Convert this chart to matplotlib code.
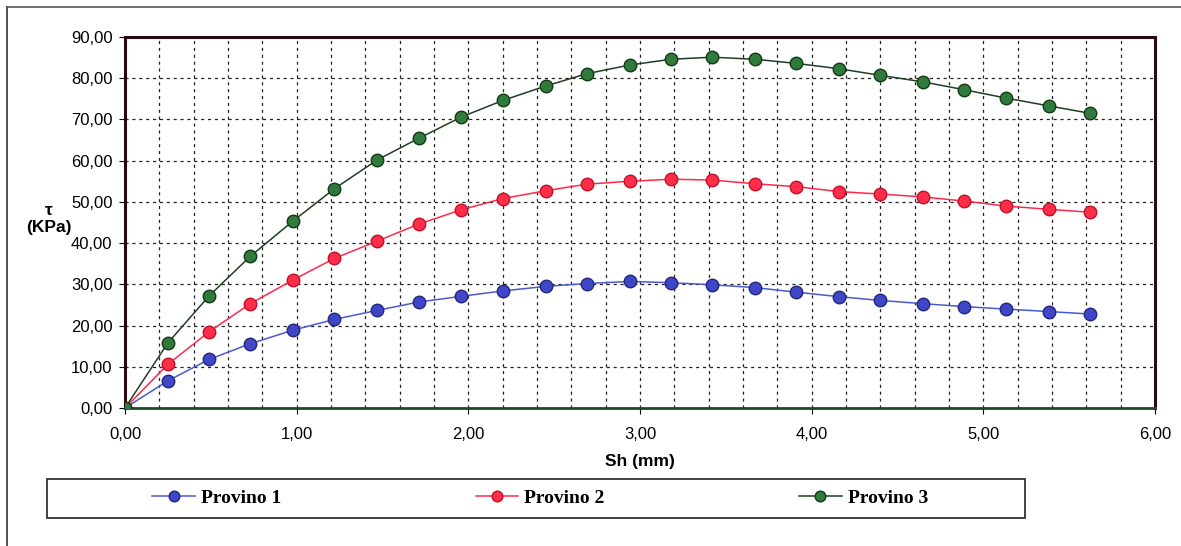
import matplotlib.pyplot as plt
from matplotlib.lines import Line2D
from matplotlib.patches import Rectangle
from matplotlib.ticker import MultipleLocator, FuncFormatter

plt.rcParams['font.family'] = ['Liberation Sans', 'DejaVu Sans']

sh = [0.00, 0.25, 0.49, 0.73, 0.98, 1.22, 1.47, 1.71, 1.96, 2.20, 2.45, 2.69,
      2.94, 3.18, 3.42, 3.67, 3.91, 4.16, 4.40, 4.65, 4.89, 5.13, 5.38, 5.62]

provino1 = [0.0, 6.6, 11.8, 15.6, 18.9, 21.5, 23.7, 25.7, 27.1, 28.4, 29.5, 30.2,
            30.7, 30.4, 29.9, 29.2, 28.1, 27.0, 26.1, 25.3, 24.6, 24.0, 23.4, 22.8]
provino2 = [0.0, 10.6, 18.5, 25.3, 31.1, 36.3, 40.5, 44.6, 48.1, 50.8, 52.7, 54.3,
            55.0, 55.5, 55.3, 54.4, 53.7, 52.5, 51.9, 51.2, 50.2, 49.0, 48.2, 47.5]
provino3 = [0.0, 15.8, 27.2, 36.8, 45.4, 53.2, 60.2, 65.4, 70.6, 74.6, 78.1, 81.1,
            83.2, 84.6, 85.1, 84.6, 83.6, 82.3, 80.7, 79.1, 77.2, 75.2, 73.3, 71.5]

labels = ['Provino 1', 'Provino 2', 'Provino 3']
series = [provino1, provino2, provino3]
line_colors = ['#4a5ad0', '#ff2a4a', '#1f3f22']
face_colors = ['#3f46c8', '#ff2d48', '#2f7a3c']
edge_colors = ['#26287a', '#c0102a', '#153a18']

W, H = 1181, 546
fig = plt.figure(figsize=(W / 100, H / 100), dpi=100)
ax = fig.add_axes([125 / W, 1 - 408 / H, 1030 / W, 371 / H])

handles = []
for y, lab, lc, fc, ec in zip(series, labels, line_colors, face_colors, edge_colors):
    h, = ax.plot(sh, y, '-', color=lc, lw=1.1, marker='o', ms=9,
                 markerfacecolor=fc, markeredgecolor=ec, markeredgewidth=1.0,
                 label=lab, zorder=3)
    handles.append(h)

ax.set_xlim(0, 6)
ax.set_ylim(0, 90)
ax.xaxis.set_major_locator(MultipleLocator(1))
ax.xaxis.set_minor_locator(MultipleLocator(0.2))
ax.yaxis.set_major_locator(MultipleLocator(10))
fmt = FuncFormatter(lambda v, p: f'{v:.2f}'.replace('.', ','))
ax.xaxis.set_major_formatter(fmt)
ax.yaxis.set_major_formatter(fmt)

ax.grid(True, which='major', axis='y', color='#222222', ls=(0, (2.5, 3)), lw=0.9)
ax.grid(True, which='both', axis='x', color='#222222', ls=(0, (2.5, 3)), lw=0.9)
ax.tick_params(axis='both', which='major', labelsize=12, length=4, direction='out')
ax.tick_params(axis='x', which='major', pad=10)
ax.tick_params(axis='y', which='major', pad=5)
ax.tick_params(axis='x', which='minor', length=0)

for s in ['left', 'right', 'top']:
    ax.spines[s].set_color('#2a0a10')
    ax.spines[s].set_linewidth(2.2)
ax.spines['bottom'].set_color('#1f4a22')
ax.spines['bottom'].set_linewidth(2.0)

ax.set_xlabel('Sh (mm)', fontsize=12.5, fontweight='bold', labelpad=8)
ax.set_ylabel('τ\n(KPa)', fontsize=12.5, fontweight='bold', rotation=0,
              ha='center', va='center')
ax.yaxis.set_label_coords(-0.074, 0.51)

# legend frame drawn separately so the entries can keep their spacing
fig.add_artist(Rectangle((47 / W, 1 - 518 / H), 978 / W, 39 / H, transform=fig.transFigure,
                         fill=False, edgecolor='#333333', lw=1.3))
leg = fig.legend(handles=handles, ncol=3, loc='center',
                 bbox_to_anchor=(540 / W, 1 - 498 / H),
                 frameon=False, handlelength=2.2, handletextpad=0.3,
                 columnspacing=10.0, markerscale=0.85,
                 prop={'family': 'Liberation Serif', 'weight': 'bold', 'size': 14})

# outer frame lines
fig.add_artist(Line2D([7 / W, 7 / W], [0, 1 - 7 / H], color='#333333', lw=1.2))
fig.add_artist(Line2D([7 / W, 1], [1 - 7 / H, 1 - 7 / H], color='#555555', lw=1.2))

fig.savefig('out.png', dpi=100)
